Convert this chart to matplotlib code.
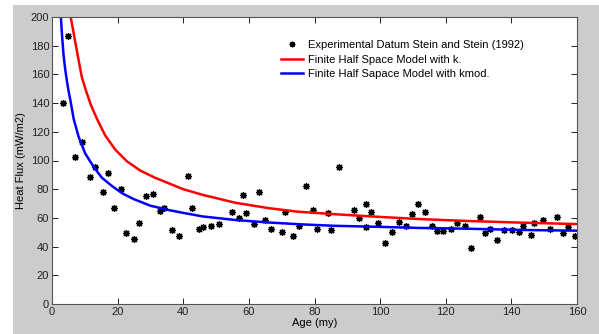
import matplotlib
matplotlib.use("Agg")
import matplotlib.pyplot as plt
from matplotlib.patches import Rectangle

plt.rcParams['font.family'] = ['Liberation Sans', 'DejaVu Sans']

# Experimental data (Stein and Stein 1992)
age_data = [3.5, 5.0, 6.9, 9.1, 11.5, 13.0, 15.5, 17.0, 18.8, 21.1, 22.6, 24.9, 26.5,
            28.6, 30.9, 32.9, 34.1, 36.6, 38.7, 41.5, 42.8, 44.8, 46.1, 48.6, 50.9,
            55.0, 56.9, 58.1, 59.2, 61.7, 63.0, 64.8, 66.6, 70.0, 71.0, 73.5, 75.3,
            77.4, 79.5, 80.8, 84.0, 85.0, 87.5, 92.1, 93.6, 95.8, 95.8, 97.3, 99.4,
            101.5, 103.5, 105.8, 107.8, 109.7, 111.5, 113.6, 115.8, 117.3, 119.1,
            121.5, 123.5, 125.8, 127.8, 130.4, 131.9, 133.5, 135.7, 137.8, 140.1,
            142.3, 143.6, 145.9, 147.0, 149.7, 151.9, 153.9, 155.7, 157.4, 159.4]
flux_data = [140.3, 187.0, 102.2, 112.7, 88.7, 95.2, 78.0, 91.0, 67.1, 80.4, 49.7, 45.5, 56.2,
             75.5, 76.9, 65.0, 67.1, 51.9, 47.1, 89.0, 67.1, 52.0, 53.7, 54.4, 56.0,
             64.3, 60.1, 76.0, 63.2, 56.0, 78.0, 58.5, 52.5, 50.0, 64.3, 47.5, 54.4,
             82.2, 65.5, 52.0, 63.2, 51.6, 95.2, 65.7, 59.7, 69.5, 53.9, 64.3, 56.2,
             42.7, 50.2, 57.1, 54.1, 62.5, 69.5, 64.3, 54.6, 51.1, 50.7,
             52.3, 56.2, 54.4, 39.0, 60.8, 49.7, 52.0, 44.4, 51.6, 51.6,
             50.0, 54.6, 48.3, 56.4, 58.5, 52.0, 60.8, 49.7, 53.9, 47.2]

# Model curves
age_k = [5.7, 7.7, 9.1, 10.3, 11.8, 13.7, 16.2, 19.3, 22.8, 26.9, 31.4, 35.7, 40, 46,
         56, 66, 75, 86, 99, 112, 126, 143, 160]
flux_k = [200, 175, 158, 149, 139, 129, 117.5, 107.5, 99.5, 93, 88, 84, 80, 76,
          70.5, 66.8, 64.3, 62.6, 60.8, 59.2, 57.9, 56.7, 55.7]
age_kmod = [2.7, 3.1, 3.5, 4.0, 4.5, 5.0, 5.6, 6.6, 8.1, 10.1, 12.7, 15.2, 18.4, 21.5,
            25, 30, 35.5, 40, 46, 56, 66, 76, 86, 99, 112, 126, 143, 160]
flux_kmod = [200, 186, 174, 164, 156, 149, 142, 129, 116.6, 105, 95.5, 88, 82, 77,
             73, 68.5, 65.5, 63.5, 61, 58.5, 56.8, 55.5, 54.5, 53.8, 53, 52.5, 51.6, 51.1]

xticks = [0, 20, 40, 60, 80, 100, 120, 140, 160]
yticks = [0, 20, 40, 60, 80, 100, 120, 140, 160, 180, 200]

W, H = 599, 334
fig = plt.figure(figsize=(W / 100, H / 100), dpi=100, facecolor='white')
fig.patches.append(Rectangle((13 / W, 0), 1, (H - 5) / H, transform=fig.transFigure,
                             facecolor='#cccccc', edgecolor='none', zorder=-10))

ax = fig.add_axes([52 / W, (H - 304) / H, (577 - 52) / W, (304 - 17) / H])
ax.set_facecolor('white')

ax.plot(age_data, flux_data, linestyle='none', marker=(8, 2, 0), markersize=5,
        markeredgewidth=0.9, color='black', label='Experimental Datum Stein and Stein (1992)')
ax.plot(age_k, flux_k, color='#ff0000', lw=1.8, label='Finite Half Space Model with k.')
ax.plot(age_kmod, flux_kmod, color='#0000ff', lw=1.8, label='Finite Half Sapace Model with kmod.')

ax.set_xlim(0, 160)
ax.set_ylim(0, 200)
ax.set_xticks(xticks)
ax.set_yticks(yticks)
ax.tick_params(direction='in', top=True, right=True, length=4, width=0.7,
               labelsize=8, colors='#222222', pad=2)
for s in ax.spines.values():
    s.set_color('#555555')
    s.set_linewidth(0.8)

ax.set_xlabel('Age (my)', fontsize=8, labelpad=1)
ax.set_ylabel('Heat Flux (mW/m2)', fontsize=8, labelpad=3)

leg = ax.legend(loc='upper left', bbox_to_anchor=(0.436, 0.92), frameon=False, fontsize=8,
                borderpad=0, borderaxespad=0, handlelength=2.0, handletextpad=0.45,
                labelspacing=0.42, markerscale=0.8)

fig.savefig('out.png', dpi=100, facecolor=fig.get_facecolor())
